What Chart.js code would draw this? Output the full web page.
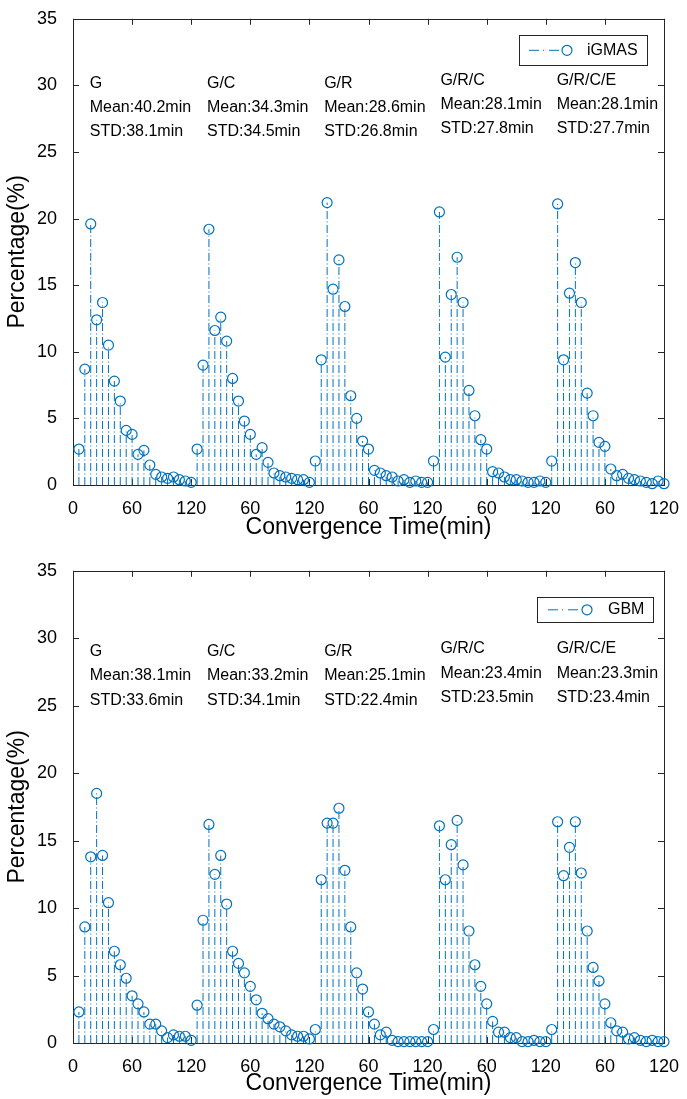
<!DOCTYPE html>
<html>
<head>
<meta charset="utf-8">
<script src="https://cdn.jsdelivr.net/npm/chart.js@4.4.1/dist/chart.umd.min.js"></script>
<style>
  html, body { margin: 0; padding: 0; background: #fff; }
  .panel { position: absolute; left: 0; width: 687px; }
  #panelTop { top: 0; height: 545px; }
  #panelBottom { top: 552px; height: 547px; }
</style>
</head>
<body>
<div class="panel" id="panelTop"><canvas id="chartTop"></canvas></div>
<div class="panel" id="panelBottom"><canvas id="chartBottom"></canvas></div>
<script>
// Convergence time bins (min) inside each 120 min block
const bins = [6, 12, 18, 24, 30, 36, 42, 48, 54, 60, 66, 72, 78, 84, 90, 96, 102, 108, 114, 120];
const groups = ["G", "G/C", "G/R", "G/R/C", "G/R/C/E"];
const xTickValues = [0, 60, 120, 180, 240, 300, 360, 420, 480, 540, 600];
const yTickValues = [0, 5, 10, 15, 20, 25, 30, 35];

// iGMAS percentages (%)
const igmasG = [2.7, 8.7, 19.6, 12.4, 13.7, 10.5, 7.8, 6.3, 4.1, 3.8, 2.3, 2.6, 1.5, 0.8, 0.6, 0.5, 0.6, 0.4, 0.3, 0.2];
const igmasGC = [2.7, 9.0, 19.2, 11.6, 12.6, 10.8, 8.0, 6.3, 4.8, 3.8, 2.3, 2.8, 1.7, 0.9, 0.7, 0.6, 0.5, 0.4, 0.4, 0.2];
const igmasGR = [1.8, 9.4, 21.2, 14.7, 16.9, 13.4, 6.7, 5.0, 3.3, 2.7, 1.1, 0.9, 0.7, 0.6, 0.3, 0.4, 0.2, 0.3, 0.2, 0.2];
const igmasGRC = [1.8, 20.5, 9.6, 14.3, 17.1, 13.7, 7.1, 5.2, 3.4, 2.7, 1.0, 0.9, 0.6, 0.4, 0.4, 0.3, 0.2, 0.2, 0.3, 0.2];
const igmasGRCE = [1.8, 21.1, 9.4, 14.4, 16.7, 13.7, 6.9, 5.2, 3.2, 2.9, 1.2, 0.7, 0.8, 0.5, 0.4, 0.3, 0.2, 0.1, 0.3, 0.1];
const igmasMean = [40.2, 34.3, 28.6, 28.1, 28.1];
const igmasStd = [38.1, 34.5, 26.8, 27.8, 27.7];

// GBM percentages (%)
const gbmG = [2.3, 8.6, 13.8, 18.5, 13.9, 10.4, 6.8, 5.8, 4.8, 3.5, 2.9, 2.3, 1.4, 1.4, 0.9, 0.4, 0.6, 0.5, 0.5, 0.2];
const gbmGC = [2.8, 9.1, 16.2, 12.5, 13.9, 10.3, 6.8, 5.9, 5.2, 4.2, 3.2, 2.2, 1.8, 1.4, 1.2, 0.9, 0.6, 0.5, 0.5, 0.3];
const gbmGR = [1.0, 12.1, 16.3, 16.3, 17.4, 12.8, 8.6, 5.2, 4.0, 2.3, 1.4, 0.6, 0.8, 0.2, 0.1, 0.1, 0.1, 0.1, 0.1, 0.1];
const gbmGRC = [1.0, 16.1, 12.1, 14.7, 16.5, 13.2, 8.3, 5.8, 4.2, 2.9, 1.6, 0.8, 0.8, 0.4, 0.4, 0.1, 0.1, 0.2, 0.1, 0.1];
const gbmGRCE = [1.0, 16.4, 12.4, 14.5, 16.4, 12.6, 8.3, 5.6, 4.6, 2.9, 1.5, 0.9, 0.8, 0.3, 0.4, 0.2, 0.1, 0.2, 0.1, 0.1];
const gbmMean = [38.1, 33.2, 25.1, 23.4, 23.3];
const gbmStd = [33.6, 34.1, 22.4, 23.5, 23.4];

const BLUE = "#0072BD";
const AXIS = "#262626";
const FONT = "'Liberation Sans', Arial, sans-serif";
const DASHDOT = [8, 2.5, 1, 2.5];

function buildPoints(series) {
  const pts = [];
  series.forEach(function (vals, g) {
    vals.forEach(function (v, i) {
      pts.push({ x: g * 120 + bins[i], y: v });
    });
  });
  return pts;
}

function buildStems(series) {
  const pts = [];
  series.forEach(function (vals, g) {
    vals.forEach(function (v, i) {
      const x = g * 120 + bins[i];
      pts.push({ x: x, y: 0 }, { x: x, y: v }, { x: x, y: null });
    });
  });
  return pts;
}

// box + inward ticks, like a matlab axes
const framePlugin = {
  id: "frame",
  beforeDatasetsDraw: function (chart) {
    const ctx = chart.ctx;
    const a = chart.chartArea;
    const xs = chart.scales.x;
    const ys = chart.scales.y;
    ctx.save();
    ctx.strokeStyle = AXIS;
    ctx.lineWidth = 1;
    ctx.beginPath();
    xTickValues.forEach(function (v) {
      const x = Math.round(xs.getPixelForValue(v)) + 0.5;
      ctx.moveTo(x, a.bottom);
      ctx.lineTo(x, a.bottom - 6);
      ctx.moveTo(x, a.top);
      ctx.lineTo(x, a.top + 6);
    });
    yTickValues.forEach(function (v) {
      const y = Math.round(ys.getPixelForValue(v)) + 0.5;
      ctx.moveTo(a.left, y);
      ctx.lineTo(a.left + 6, y);
      ctx.moveTo(a.right, y);
      ctx.lineTo(a.right - 6, y);
    });
    ctx.stroke();
    ctx.strokeRect(Math.round(a.left) + 0.5, Math.round(a.top) + 0.5,
      Math.round(a.right - a.left), Math.round(a.bottom - a.top));
    ctx.restore();
  },
};

// group labels with mean / std, plus the legend box
const statsPlugin = {
  id: "stats",
  afterDatasetsDraw: function (chart, args, opts) {
    const ctx = chart.ctx;
    const xs = chart.scales.x;
    const ys = chart.scales.y;
    ctx.save();
    ctx.fillStyle = "#000";
    ctx.font = "16px " + FONT;
    ctx.textAlign = "left";
    ctx.textBaseline = "middle";
    groups.forEach(function (name, g) {
      const x = xs.getPixelForValue(opts.textX[g]);
      const shift = g >= 3 ? opts.lift : 0;
      const lines = [name, "Mean:" + opts.mean[g].toFixed(1) + "min", "STD:" + opts.std[g].toFixed(1) + "min"];
      lines.forEach(function (t, k) {
        ctx.fillText(t, x, ys.getPixelForValue(opts.rows[k] + shift));
      });
    });

    const a = chart.chartArea;
    const L = opts.legend;
    const bx = a.right - L.right - L.width;
    const by = a.top + L.top;
    ctx.fillStyle = "#fff";
    ctx.fillRect(bx, by, L.width, L.height);
    ctx.strokeStyle = AXIS;
    ctx.lineWidth = 1;
    ctx.strokeRect(Math.round(bx) + 0.5, Math.round(by) + 0.5, L.width, L.height);
    const cy = by + L.height / 2 + 0.5;
    ctx.strokeStyle = BLUE;
    ctx.setLineDash([10, 4, 1, 5]);
    ctx.beginPath();
    ctx.moveTo(bx + L.lineStart, cy);
    ctx.lineTo(bx + L.circle, cy);
    ctx.stroke();
    ctx.setLineDash([]);
    ctx.beginPath();
    ctx.arc(bx + L.circle, cy, 5, 0, Math.PI * 2);
    ctx.fillStyle = "#fff";
    ctx.fill();
    ctx.lineWidth = 1.2;
    ctx.stroke();
    ctx.fillStyle = "#000";
    ctx.font = "16px " + FONT;
    ctx.fillText(L.label, bx + L.text, cy);
    ctx.restore();
  },
};

function makeChart(canvasId, series, mean, std, cfg) {
  const ctx = document.getElementById(canvasId).getContext("2d");
  return new Chart(ctx, {
    type: "scatter",
    data: {
      datasets: [
        {
          label: cfg.legend.label,
          data: buildPoints(series),
          showLine: false,
          pointStyle: "circle",
          pointRadius: 5,
          pointHoverRadius: 5,
          pointBorderWidth: 1.2,
          pointBorderColor: BLUE,
          pointBackgroundColor: "rgba(0,0,0,0)",
          clip: false,
        },
        {
          label: "stems",
          data: buildStems(series),
          showLine: true,
          spanGaps: false,
          borderColor: BLUE,
          borderWidth: 1,
          borderDash: DASHDOT,
          pointRadius: 0,
          pointHoverRadius: 0,
        },
      ],
    },
    options: {
      responsive: true,
      maintainAspectRatio: false,
      animation: false,
      events: [],
      layout: {
        padding: { left: 0, right: 23, top: 17, bottom: 0 },
      },
      plugins: {
        legend: { display: false },
        tooltip: { enabled: false },
        stats: {
          mean: mean,
          std: std,
          textX: cfg.textX,
          rows: cfg.rows,
          lift: cfg.lift,
          legend: cfg.legend,
        },
      },
      scales: {
        x: {
          type: "linear",
          min: 0,
          max: 600,
          afterBuildTicks: function (scale) {
            scale.ticks = xTickValues.map(function (v) { return { value: v }; });
          },
          afterFit: function (scale) {
            scale.height = cfg.xHeight;
          },
          grid: { display: false },
          border: { display: false },
          ticks: {
            autoSkip: false,
            maxRotation: 0,
            padding: 5,
            color: "#000",
            font: { family: FONT, size: 18 },
            callback: function (value) {
              if (value === 0) return "0";
              return value % 120 === 0 ? "120" : "60";
            },
          },
          title: {
            display: true,
            text: "Convergence Time(min)",
            color: "#000",
            font: { family: FONT, size: 23 },
            padding: { top: 0, bottom: cfg.titlePad },
          },
        },
        y: {
          min: 0,
          max: 35,
          afterBuildTicks: function (scale) {
            scale.ticks = yTickValues.map(function (v) { return { value: v }; });
          },
          afterFit: function (scale) {
            scale.width = 73;
          },
          grid: { display: false },
          border: { display: false },
          ticks: {
            padding: 8,
            color: "#000",
            font: { family: FONT, size: 18 },
          },
          title: {
            display: true,
            text: "Percentage(%)",
            color: "#000",
            font: { family: FONT, size: 23 },
            padding: { top: 4, bottom: 0 },
          },
        },
      },
    },
    plugins: [framePlugin, statsPlugin],
  });
}

makeChart("chartTop", [igmasG, igmasGC, igmasGR, igmasGRC, igmasGRCE], igmasMean, igmasStd, {
  xHeight: 60,
  titlePad: 4,
  textX: [17, 136, 255, 373, 491],
  rows: [30.1, 28.3, 26.5],
  lift: 0.25,
  legend: { label: "iGMAS", right: 17, width: 128, top: 16, height: 30, lineStart: 10, circle: 48, text: 68 },
});

makeChart("chartBottom", [gbmG, gbmGC, gbmGR, gbmGRC, gbmGRCE], gbmMean, gbmStd, {
  xHeight: 56,
  titlePad: 2,
  textX: [17, 136, 255, 373, 491],
  rows: [29.0, 27.2, 25.4],
  lift: 0.2,
  legend: { label: "GBM", right: 11, width: 116, top: 26, height: 25, lineStart: 11, circle: 50, text: 71 },
});
</script>
</body>
</html>
